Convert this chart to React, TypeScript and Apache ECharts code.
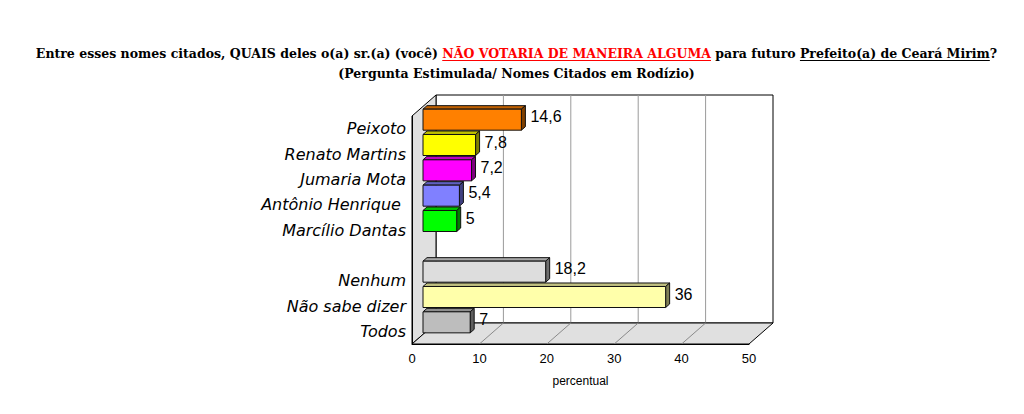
import React, { useEffect, useRef } from "react";
import * as echarts from "echarts";

// ---------- data ----------
const CATEGORIES = [
  "Peixoto",
  "Renato Martins",
  "Jumaria Mota",
  "Antônio Henrique ",
  "Marcílio Dantas",
  "",
  "Nenhum",
  "Não sabe dizer",
  "Todos",
];
const VALUES: (number | null)[] = [14.6, 7.8, 7.2, 5.4, 5, null, 18.2, 36, 7];
const FRONT_COLORS = ["#FF8000", "#FFFF00", "#FF00FF", "#8080FF", "#00FF00", "", "#DDDDDD", "#FFFFAA", "#BDBDBD"];
const TOP_COLORS = ["#C06000", "#C0C000", "#C000C0", "#6060C0", "#00C000", "", "#A6A6A6", "#C0C080", "#8E8E8E"];
const SIDE_COLORS = ["#804000", "#808000", "#800080", "#404080", "#008000", "", "#6E6E6E", "#808055", "#5E5E5E"];

const X_MIN = 0;
const X_MAX = 50;
const X_INTERVAL = 10;
const X_NAME = "percentual";

const TITLE_SEGMENTS = [
  { text: "Entre esses nomes citados, QUAIS deles o(a) sr.(a) (você) ", color: "#000000", underline: false },
  { text: "NÃO VOTARIA DE MANEIRA ALGUMA", color: "#FF0000", underline: true },
  { text: " para futuro ", color: "#000000", underline: false },
  { text: "Prefeito(a) de Ceará Mirim", color: "#000000", underline: true },
  { text: "?", color: "#000000", underline: false },
];
const SUBTITLE = "(Pergunta Estimulada/ Nomes Citados em Rodízio)";

// ---------- layout ----------
const GRID = { left: 412, top: 116, width: 337, height: 228 };
const DEPTH = { x: 24, y: -21 };
const BAR_OFF = { x: 11, y: -9 };
const BAR_DEPTH = { x: 4, y: -3.5 };
const TITLE_CX = 516.5;
const TITLE_W = 963;
const TITLE_FAMILY = '"DejaVu Serif", "Liberation Serif", serif';
const SANS = '"Liberation Sans", Arial, sans-serif';
const CAT_FONT = '"DejaVu Sans", "Liberation Sans", sans-serif';

function measure(text: string, font: string): number {
  const ctx = document.createElement("canvas").getContext("2d");
  if (!ctx) return text.length * 7;
  ctx.font = font;
  return ctx.measureText(text).width;
}

function fmt(v: number): string {
  return String(v).replace(".", ",");
}

function buildTitle(): any[] {
  const full = TITLE_SEGMENTS.map((s) => s.text).join("");
  const w14 = measure(full, `bold 14px ${TITLE_FAMILY}`);
  const fs = Math.max(11, Math.min(16, (14 * TITLE_W) / w14));
  const font = `bold ${fs}px ${TITLE_FAMILY}`;
  const total = measure(full, font);
  let x = TITLE_CX - total / 2;
  const els: any[] = [];
  const y1 = 53;
  TITLE_SEGMENTS.forEach((s) => {
    const w = measure(s.text, font);
    els.push({
      type: "text",
      z: 10,
      style: {
        text: s.text,
        x,
        y: y1,
        fill: s.color,
        fontSize: fs,
        fontWeight: "bold",
        fontFamily: TITLE_FAMILY,
        align: "left",
        verticalAlign: "middle",
      },
    });
    if (s.underline) {
      els.push({
        type: "line",
        z: 10,
        shape: { x1: x, y1: y1 + 7.5, x2: x + w, y2: y1 + 7.5 },
        style: { stroke: s.color, lineWidth: 1.2 },
      });
    }
    x += w;
  });
  els.push({
    type: "text",
    z: 10,
    style: {
      text: SUBTITLE,
      x: TITLE_CX,
      y: y1 + 20,
      fill: "#000",
      fontSize: fs,
      fontWeight: "bold",
      fontFamily: TITLE_FAMILY,
      align: "center",
      verticalAlign: "middle",
    },
  });
  return els;
}

function buildBox(): any[] {
  const L = GRID.left, T = GRID.top, W = GRID.width, H = GRID.height;
  const B = T + H;
  const bl = L + DEPTH.x, bt = T + DEPTH.y, bb = B + DEPTH.y;
  const els: any[] = [];
  const edge = { stroke: "#000", lineWidth: 1 };
  els.push({ type: "rect", z: 0, shape: { x: bl, y: bt, width: W, height: H }, style: { fill: "#fff", ...edge } });
  const n = Math.round((X_MAX - X_MIN) / X_INTERVAL);
  for (let k = 1; k < n; k++) {
    const dx = (W * k) / n;
    els.push({ type: "line", z: 0, shape: { x1: bl + dx, y1: bt, x2: bl + dx, y2: bb }, style: { stroke: "#9a9a9a", lineWidth: 1 } });
  }
  els.push({
    type: "polygon",
    z: 0,
    shape: { points: [[L, T], [bl, bt], [bl, bb], [L, B]] },
    style: { fill: "#E0E0E0", ...edge },
  });
  els.push({
    type: "polygon",
    z: 0,
    shape: { points: [[L, B], [bl, bb], [bl + W, bb], [L + W, B]] },
    style: { fill: "#E0E0E0", ...edge },
  });
  for (let k = 1; k < n; k++) {
    const dx = (W * k) / n;
    els.push({ type: "line", z: 0, shape: { x1: L + dx, y1: B, x2: bl + dx, y2: bb }, style: { stroke: "#8a8a8a", lineWidth: 1 } });
  }
  return els;
}

export default function App() {
  const ref = useRef<HTMLDivElement>(null);
  useEffect(() => {
    if (!ref.current) return;
    const chart = echarts.init(ref.current, undefined, { renderer: "svg" });
    const data = VALUES.map((v, i) => (v == null ? null : [v, i])).filter((d) => d != null);
    chart.setOption({
      animation: false,
      backgroundColor: "#ffffff",
      grid: { left: GRID.left, top: GRID.top, width: GRID.width, height: GRID.height, containLabel: false },
      xAxis: {
        type: "value",
        min: X_MIN,
        max: X_MAX,
        interval: X_INTERVAL,
        axisLine: { show: true, lineStyle: { color: "#000", width: 1 } },
        axisTick: { show: false },
        splitLine: { show: false },
        axisLabel: { color: "#000", fontSize: 13, fontFamily: SANS, margin: 8 },
        name: X_NAME,
        nameLocation: "middle",
        nameGap: 31,
        nameTextStyle: { color: "#000", fontSize: 12, fontFamily: SANS },
      },
      yAxis: {
        type: "category",
        data: CATEGORIES,
        inverse: true,
        axisLine: { show: true, lineStyle: { color: "#000", width: 1 } },
        axisTick: { show: false },
        splitLine: { show: false },
        axisLabel: { color: "#000", fontSize: 16, fontStyle: "italic", fontFamily: CAT_FONT, margin: 6, interval: 0 },
      },
      graphic: { elements: [...buildBox(), ...buildTitle()] },
      series: [
        {
          type: "custom",
          z: 5,
          encode: { x: 0, y: 1 },
          data,
          renderItem: (params: any, api: any) => {
            const v = api.value(0);
            const idx = api.value(1);
            const p1 = api.coord([v, idx]);
            const p0 = api.coord([0, idx]);
            const band = api.size([0, 1])[1];
            const h = band * 0.83;
            const x0 = p0[0] + BAR_OFF.x;
            const x1 = p1[0] + BAR_OFF.x;
            const yc = p1[1] + BAR_OFF.y;
            const yt = yc - h / 2;
            const yb = yc + h / 2;
            const dx = BAR_DEPTH.x, dy = BAR_DEPTH.y;
            const stroke = { stroke: "#111", lineWidth: 1, lineJoin: "round" };
            return {
              type: "group",
              children: [
                {
                  type: "polygon",
                  shape: { points: [[x0, yt], [x1, yt], [x1 + dx, yt + dy], [x0 + dx, yt + dy]] },
                  style: { fill: TOP_COLORS[idx], ...stroke },
                },
                {
                  type: "polygon",
                  shape: { points: [[x1, yt], [x1 + dx, yt + dy], [x1 + dx, yb + dy], [x1, yb]] },
                  style: { fill: SIDE_COLORS[idx], ...stroke },
                },
                {
                  type: "rect",
                  shape: { x: x0, y: yt, width: x1 - x0, height: h },
                  style: { fill: FRONT_COLORS[idx], ...stroke },
                },
                {
                  type: "text",
                  style: {
                    text: fmt(v),
                    x: x1 + dx + 5,
                    y: yc - 3,
                    fill: "#000",
                    fontSize: 16,
                    fontFamily: SANS,
                    align: "left",
                    verticalAlign: "middle",
                  },
                },
              ],
            };
          },
        },
      ],
    });
    return () => chart.dispose();
  }, []);
  return <div ref={ref} style={{ position: "fixed", left: 0, top: 0, width: 1024, height: 414 }} />;
}
